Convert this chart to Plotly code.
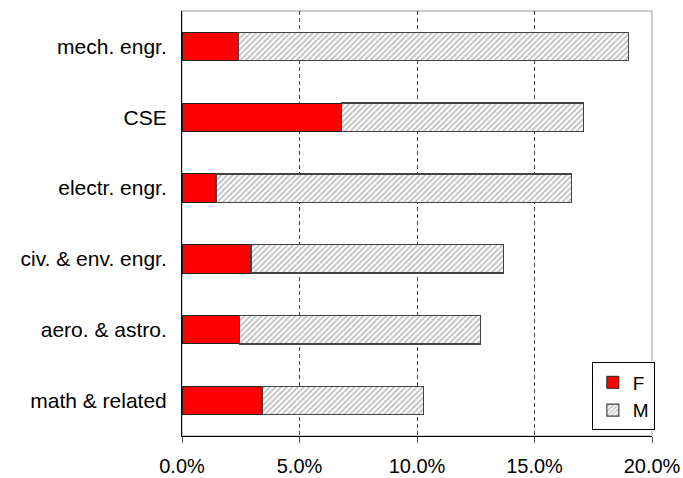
import plotly.graph_objects as go

categories = ["mech. engr.", "CSE", "electr. engr.", "civ. & env. engr.", "aero. & astro.", "math & related"]
female = [0.0242, 0.0680, 0.0145, 0.0294, 0.0243, 0.0340]
male = [0.1658, 0.1027, 0.1512, 0.1074, 0.1027, 0.0688]
tick_vals = [0, 0.05, 0.10, 0.15, 0.20]
tick_text = ["0.0%", "5.0%", "10.0%", "15.0%", "20.0%"]

font = dict(family="Liberation Sans, Arial, sans-serif", size=21, color="black")

fig = go.Figure()
fig.add_trace(go.Bar(
    y=categories, x=female, name="F", orientation="h",
    marker=dict(color="#ff0000", line=dict(color="#222222", width=1)),
))
fig.add_trace(go.Bar(
    y=categories, x=male, name="M", orientation="h",
    marker=dict(color="white", line=dict(color="#444444", width=1.2),
                pattern=dict(shape="/", fgcolor="#7a7a7a", bgcolor="white", size=4, solidity=0.45)),
))

fig.update_layout(
    width=683, height=478,
    margin=dict(l=182, r=31, t=11, b=42),
    barmode="stack", bargap=0.6,
    plot_bgcolor="white", paper_bgcolor="white",
    font=font,
    showlegend=True,
    legend=dict(x=0.872, y=0.173, xanchor="left", yanchor="top",
                traceorder="normal",
                bordercolor="black", borderwidth=1, bgcolor="white",
                font=dict(size=19), tracegroupgap=0, itemwidth=30),
    xaxis=dict(range=[0, 0.2], tickvals=tick_vals, ticktext=tick_text,
               tickfont=dict(size=20),
               showgrid=True, gridcolor="#444444", griddash="4px,3px", gridwidth=1,
               showline=True, linecolor="black", linewidth=1, automargin=False,
               ticks="outside", ticklen=6, tickcolor="#555555", zeroline=False,
               ticklabelstandoff=6),
    yaxis=dict(autorange="reversed", showline=True, linecolor="black", linewidth=1,
               automargin=False,
               ticks="outside", ticklen=10, tickcolor="rgba(0,0,0,0)", showgrid=False),
    shapes=[dict(type="rect", xref="paper", yref="paper", x0=0, x1=1, y0=0, y1=1,
                 line=dict(color="#999999", width=1), layer="below")],
)

fig.write_html("out.html", config={"displayModeBar": False},
               post_script="document.body.style.margin='0';document.body.style.overflow='hidden';")
